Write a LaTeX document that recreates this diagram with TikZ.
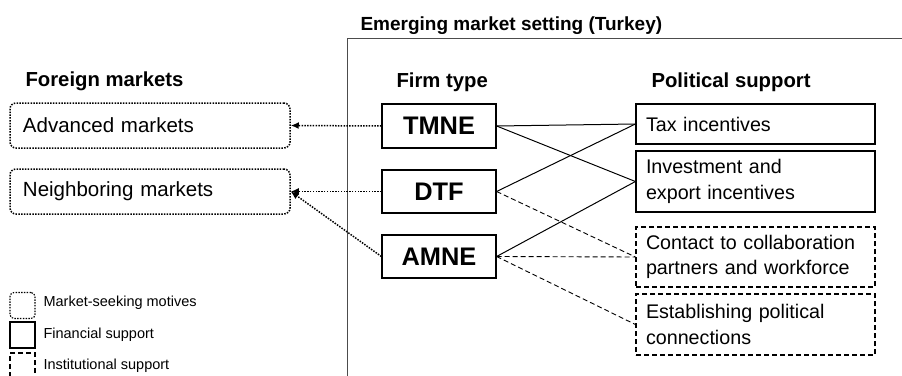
\documentclass[tikz,border=0pt]{standalone}
\usepackage{fontspec}
\setmainfont{Liberation Sans}
\usetikzlibrary{arrows.meta}
\tikzset{>={Latex[length=8pt,width=7pt]}}
\tikzset{
    dots/.style={dash pattern=on 1.5pt off 1.3pt},
    market/.style={draw, dots, line width=1.5pt, rounded corners=6pt, minimum height=45pt, inner xsep=13pt, text width=254pt, align=left, font=\fontsize{20.5}{25.7}\selectfont},
    firm/.style={draw, line width=1.2pt, minimum width=114pt, minimum height=44pt, font=\bfseries\fontsize{25.4}{30}\selectfont},
    support/.style={draw, line width=1.2pt, inner xsep=10pt, text width=219pt, align=left, font=\fontsize{19.7}{25.7}\selectfont},
    institutional/.style={support, dash pattern=on 5pt off 3pt},
    heading/.style={anchor=base west, font=\bfseries\fontsize{20.3}{24}\selectfont},
    legendbox/.style={draw, line width=1.1pt, minimum width=25pt, minimum height=26pt},
    legendtext/.style={anchor=west, font=\fontsize{14.5}{17}\selectfont},
    motive/.style={->, dots, line width=1.5pt},
    financial/.style={line width=1pt},
    instit/.style={line width=0.9pt, dash pattern=on 5pt off 3pt},
}

\begin{document}
\begin{tikzpicture}[x=1pt, y=-1pt]
    \useasboundingbox (0,0) rectangle (902,375);

    % setting frame
    \draw[black!70, line width=1pt] (347,380) |- (905,38);
    \node[anchor=base west, font=\bfseries\fontsize{19}{23}\selectfont] (setting) at (357,30) {Emerging market setting (Turkey)};

    \node[heading] (foreign) at (22,86) {Foreign markets};
    \node[heading] (firmtype) at (393,87) {Firm type};
    \node[heading] (political) at (648,87) {Political support};

    \node[market] (adv) at (150,125.5) {Advanced markets};
    \node[market] (nei) at (150,191.5) {Neighboring markets};

    \node[firm] (tmne) at (439,126) {TMNE};
    \node[firm, minimum height=43pt] (dtf) at (439,191.5) {DTF};
    \node[firm, minimum height=43pt] (amne) at (439,256.5) {AMNE};

    \node[support, minimum height=40pt] (tax) at (755.5,124) {Tax incentives};
    \node[support, minimum height=61pt] (inv) at (755.5,181.5) {Investment and\\export incentives};
    \node[institutional, minimum height=60pt] (con) at (755.5,257) {Contact to collaboration\\partners and workforce};
    \node[institutional, minimum height=61pt] (est) at (755.5,324.5) {Establishing political\\connections};

    \draw[motive] (tmne.west) -- (adv.east);
    \draw[motive] (dtf.west) -- (nei.east);
    \draw[motive] (amne.west) -- (nei.east);

    \draw[financial] (tmne.east) -- (tax.west);
    \draw[financial] (tmne.east) -- (inv.west);
    \draw[financial] (dtf.east) -- (tax.west);
    \draw[financial] (amne.east) -- (inv.west);
    \draw[instit] (dtf.east) -- (con.west);
    \draw[instit] (amne.east) -- (con.west);
    \draw[instit] (amne.east) -- (est.west);

    % legend
    \node[legendbox, dots, rounded corners=4pt] (lmotive) at (22.5,305.5) {};
    \node[legendbox] (lfinance) at (22.5,335) {};
    \node[legendbox, dash pattern=on 5pt off 3pt, minimum height=27pt] (linstit) at (22.5,366.5) {};
    \node[legendtext] (tmotive) at (40,303) {Market-seeking motives};
    \node[legendtext] (tfinance) at (40,335) {Financial support};
    \node[legendtext] (tinstit) at (40,366) {Institutional support};
\end{tikzpicture}
\end{document}
